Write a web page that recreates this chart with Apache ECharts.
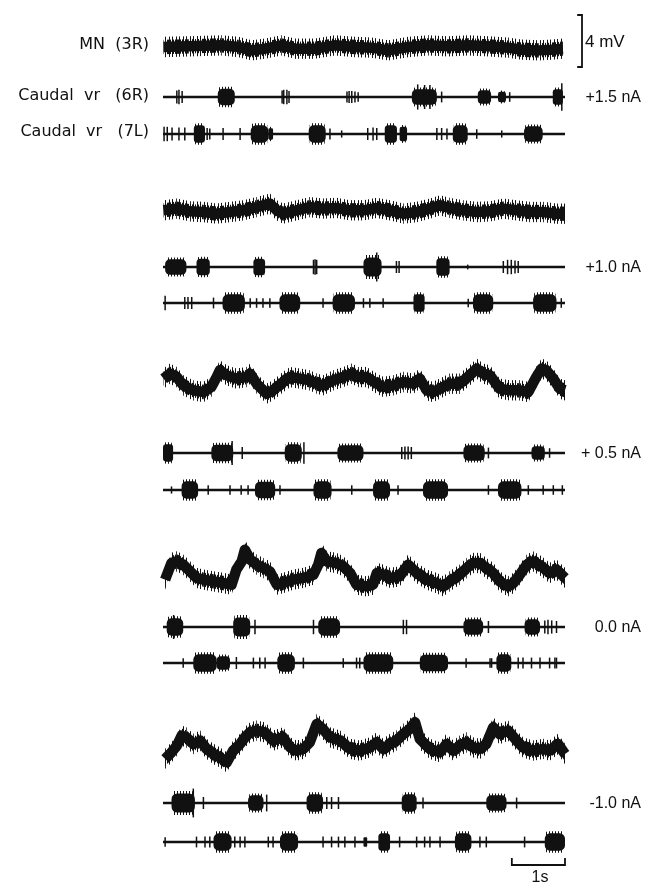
<!DOCTYPE html>
<html>
<head>
<meta charset="utf-8">
<script src="https://cdn.jsdelivr.net/npm/echarts@6/dist/echarts.min.js"></script>
<style>
  html, body { margin: 0; padding: 0; background: #fff; }
  #chart { width: 645px; height: 884px; }
</style>
</head>
<body>
<div id="chart"></div>
<script>
// Sweep length (s) and injected current for each sweep
const DURATION = 7.56;
const currentLabels = ['+1.5 nA', '+1.0 nA', '+ 0.5 nA', '0.0 nA', '-1.0 nA'];
const traceLabels = ['MN  (3R)', 'Caudal  vr   (6R)', 'Caudal  vr   (7L)'];

// Motoneuron membrane potential: [time s, mV about the sweep mean]
const mnP15 = [[0.01,0],[0.48,0.05],[1.10,0.13],[1.42,0],[1.67,-0.26],[1.92,-0.13],[2.23,0.13],[2.48,-0.13],[2.86,-0.13],[3.23,0.13],[3.61,0],[3.92,-0.05],[4.24,-0.26],[4.61,0],[4.99,0.13],[5.36,0.05],[5.74,0.13],[6.12,0.05],[6.49,-0.05],[6.74,-0.21],[7.06,-0.26],[7.31,-0.21],[7.52,-0.13]];
const mnP10 = [[0.01,0.13],[0.26,0.26],[0.51,0.05],[0.76,0],[1.01,-0.13],[1.26,0],[1.51,0.13],[1.76,0.38],[2.01,0.64],[2.14,0.13],[2.26,-0.13],[2.51,0.13],[2.76,0.38],[3.01,0.26],[3.26,0.31],[3.52,0.13],[3.77,0.13],[4.02,0.31],[4.27,0.13],[4.52,-0.13],[4.77,0],[5.02,0.26],[5.21,0.51],[5.39,0.31],[5.65,0.13],[5.90,0],[6.15,0.05],[6.40,0.26],[6.65,0.13],[6.90,0],[7.15,0],[7.40,-0.13],[7.56,-0.13]];
const mnP05 = [[0.01,0.26],[0.13,0.64],[0.26,0.38],[0.38,-0.26],[0.57,-0.64],[0.76,-0.77],[0.91,-0.38],[1.01,0.38],[1.07,0.90],[1.20,0.51],[1.38,0.26],[1.57,0.38],[1.64,0.64],[1.76,-0.13],[1.95,-0.90],[2.07,-0.64],[2.26,0],[2.39,0.38],[2.58,0.26],[2.76,0.13],[2.89,-0.13],[3.01,-0.26],[3.20,0.13],[3.39,0.38],[3.55,0.64],[3.67,0.38],[3.83,0.38],[4.02,-0.13],[4.14,-0.38],[4.33,-0.26],[4.52,0],[4.71,-0.13],[4.83,0.26],[4.96,-0.64],[5.08,-0.77],[5.27,-0.38],[5.39,-0.13],[5.58,-0.13],[5.77,0.51],[5.90,1.03],[6.02,0.64],[6.15,0.51],[6.33,-0.51],[6.52,-0.64],[6.71,-0.64],[6.87,-0.77],[7.02,0.38],[7.12,1.03],[7.21,0.90],[7.34,0.26],[7.46,-0.51],[7.56,-0.64]];
const mnP00 = [[0.04,-0.51],[0.16,0.77],[0.26,0.90],[0.38,0.64],[0.51,0.13],[0.63,-0.38],[0.76,-0.51],[0.95,-0.64],[1.13,-0.77],[1.29,-0.90],[1.38,0.26],[1.48,0.90],[1.54,1.79],[1.64,1.03],[1.76,0.64],[1.89,0.38],[2.01,0.13],[2.14,-0.90],[2.26,-0.77],[2.45,-0.51],[2.64,-0.38],[2.83,-0.13],[2.92,0.64],[2.98,1.54],[3.08,0.90],[3.26,0.77],[3.39,0.51],[3.52,0],[3.64,-0.90],[3.83,-1.03],[3.95,-0.90],[4.02,0],[4.14,-0.13],[4.27,-0.38],[4.45,-0.26],[4.61,0.64],[4.77,0],[4.96,-0.51],[5.14,-0.77],[5.27,-1.03],[5.39,-0.64],[5.58,-0.13],[5.71,0.38],[5.83,0.77],[5.96,0.77],[6.08,0.38],[6.21,0],[6.33,-0.64],[6.49,-1.03],[6.59,-0.77],[6.71,-0.13],[6.84,0.64],[6.96,0.90],[7.12,0.51],[7.27,0],[7.40,0.26],[7.56,-0.38]];
const mnM10 = [[0.04,-1.15],[0.16,-0.64],[0.26,-0.13],[0.35,0.64],[0.44,0.51],[0.57,0],[0.70,0.26],[0.82,-0.38],[0.95,-0.77],[1.07,-1.03],[1.20,-1.41],[1.32,-0.51],[1.45,0],[1.54,0.51],[1.64,0.90],[1.76,1.03],[1.92,0.90],[2.07,0.26],[2.26,0.51],[2.39,-0.26],[2.51,-0.51],[2.64,-0.38],[2.76,0.13],[2.89,1.54],[3.01,1.15],[3.14,0.51],[3.33,0.26],[3.52,-0.38],[3.70,-0.51],[3.89,-0.26],[4.02,0.13],[4.14,-0.38],[4.27,0],[4.39,0.26],[4.52,0.77],[4.64,1.15],[4.74,1.67],[4.83,0.38],[5.02,-0.38],[5.21,-0.64],[5.33,0],[5.46,-0.51],[5.58,-0.13],[5.71,0.13],[5.83,-0.26],[5.96,-0.38],[6.08,0],[6.21,1.28],[6.33,0.77],[6.49,1.03],[6.65,0.26],[6.77,-0.26],[6.96,-0.51],[7.15,-0.38],[7.27,-0.51],[7.43,0],[7.56,-0.77]];

// Ventral root bursts: [start s, end s, relative amplitude]
// Single units: [time s, relative amplitude]
const vr6RBurstsP15 = [[1.03,1.35,0.85],[4.68,5.15,0.8],[5.92,6.17,0.7],[6.30,6.45,0.55],[7.33,7.52,0.8]];
const vr6RSpikesP15 = [[0.26,0.55],[0.30,0.6],[0.36,0.5],[2.24,0.55],[2.27,0.6],[2.33,0.6],[2.37,0.5],[3.46,0.45],[3.50,0.5],[3.55,0.5],[3.61,0.45],[3.67,0.4],[4.79,1.05],[4.92,1.0],[5.02,1.0],[5.24,0.45],[6.52,0.4],[7.50,1.15]];
const vr7LBurstsP15 = [[0.58,0.79,0.9],[1.65,1.98,0.9],[1.98,2.07,0.6],[2.74,3.06,0.9],[4.17,4.40,0.9],[4.45,4.59,0.75],[5.45,5.73,0.9],[6.79,7.14,0.8]];
const vr7LSpikesP15 = [[0.02,0.6],[0.08,0.6],[0.17,0.55],[0.30,0.55],[0.41,0.55],[0.83,0.5],[0.88,0.45],[1.13,0.5],[1.45,0.5],[3.14,0.45],[3.36,0.3],[3.85,0.5],[3.95,0.55],[4.02,0.5],[5.15,0.5],[5.24,0.5],[5.34,0.45],[5.90,0.4],[6.37,0.3]];

const vr6RBurstsP10 = [[0.04,0.44,0.8],[0.63,0.88,0.85],[1.70,1.92,0.85],[3.77,4.11,1.0],[5.14,5.39,0.9]];
const vr6RSpikesP10 = [[2.83,0.6],[2.86,0.65],[2.89,0.6],[4.02,1.2],[4.39,0.5],[4.44,0.5],[5.73,0.2],[6.40,0.5],[6.48,0.6],[6.55,0.6],[6.62,0.55],[6.68,0.5]];
const vr7LBurstsP10 = [[1.12,1.54,0.9],[2.19,2.58,0.9],[3.19,3.61,0.9],[4.71,4.92,0.9],[5.83,6.21,0.9],[6.96,7.40,0.9]];
const vr7LSpikesP10 = [[0.04,0.6],[0.41,0.5],[0.47,0.5],[0.54,0.5],[0.95,0.45],[1.64,0.4],[1.76,0.4],[1.88,0.4],[2.01,0.4],[3.01,0.4],[3.77,0.4],[3.89,0.4],[4.14,0.4],[5.74,0.35],[7.49,0.4]];

const vr6RBurstsP05 = [[0,0.19,0.9],[0.91,1.32,0.85],[2.29,2.61,0.9],[3.28,3.77,0.8],[5.65,6.05,0.8],[6.93,7.18,0.7]];
const vr6RSpikesP05 = [[1.30,1.0],[1.49,0.5],[2.65,0.9],[4.49,0.5],[4.55,0.55],[4.61,0.55],[4.67,0.5],[6.12,0.45],[7.27,0.4]];
const vr7LBurstsP05 = [[0.35,0.66,0.9],[1.73,2.11,0.85],[2.83,3.17,0.9],[3.95,4.27,0.9],[4.89,5.36,0.9],[6.30,6.74,0.9]];
const vr7LSpikesP05 = [[0.16,0.3],[0.85,0.4],[1.26,0.4],[1.47,0.4],[1.60,0.4],[2.20,0.4],[3.55,0.4],[4.42,0.4],[6.12,0.4],[6.87,0.4],[7.15,0.4],[7.34,0.4],[7.51,0.4]];

const vr6RBurstsP00 = [[0.07,0.38,0.9],[1.32,1.64,1.0],[2.92,3.33,0.9],[5.65,6.02,0.8],[6.80,7.09,0.8]];
const vr6RSpikesP00 = [[0.20,1.0],[1.73,0.6],[2.83,0.6],[4.52,0.6],[4.58,0.6],[6.12,0.5],[7.18,0.55],[7.24,0.6],[7.31,0.55],[7.40,0.5]];
const vr7LBurstsP00 = [[0.57,1.01,0.9],[1.01,1.26,0.7],[2.15,2.48,0.9],[3.77,4.33,0.9],[4.83,5.36,0.85],[6.27,6.55,0.9]];
const vr7LSpikesP00 = [[0.38,0.4],[1.38,0.5],[1.70,0.45],[1.82,0.45],[1.92,0.45],[2.64,0.45],[3.39,0.4],[3.64,0.45],[3.70,0.45],[5.70,0.4],[6.15,0.4],[6.18,0.4],[6.68,0.45],[6.77,0.45],[6.93,0.45],[7.09,0.45],[7.27,0.45],[7.37,0.45],[7.40,0.45]];

const vr6RBurstsM10 = [[0.16,0.60,1.0],[1.60,1.89,0.8],[2.70,3.01,0.9],[4.49,4.77,0.9],[6.08,6.46,0.8]];
const vr6RSpikesM10 = [[0.57,1.2],[0.76,0.5],[1.95,0.7],[3.08,0.5],[3.17,0.5],[3.30,0.5],[4.89,0.45],[6.65,0.45]];
const vr7LBurstsM10 = [[0.95,1.29,0.9],[2.20,2.54,0.9],[3.77,3.84,0.5],[4.05,4.27,0.9],[5.49,5.80,0.9],[7.18,7.56,0.9]];
const vr7LSpikesM10 = [[0.04,0.4],[0.63,0.45],[0.79,0.45],[0.88,0.45],[1.35,0.45],[1.45,0.45],[1.54,0.45],[1.98,0.45],[2.07,0.45],[3.01,0.45],[3.17,0.45],[3.30,0.45],[3.42,0.45],[3.61,0.45],[4.45,0.45],[4.77,0.45],[4.92,0.45],[5.02,0.45],[5.21,0.45],[5.96,0.45],[6.08,0.45],[6.80,0.45]];

// Calibration: time bar [start s, length s], voltage bar [mV]
const timeBar = [6.56, 1];
const voltBar = [0, 4];

const sweeps = [
  { mn: mnP15, b6: vr6RBurstsP15, s6: vr6RSpikesP15, b7: vr7LBurstsP15, s7: vr7LSpikesP15 },
  { mn: mnP10, b6: vr6RBurstsP10, s6: vr6RSpikesP10, b7: vr7LBurstsP10, s7: vr7LSpikesP10 },
  { mn: mnP05, b6: vr6RBurstsP05, s6: vr6RSpikesP05, b7: vr7LBurstsP05, s7: vr7LSpikesP05 },
  { mn: mnP00, b6: vr6RBurstsP00, s6: vr6RSpikesP00, b7: vr7LBurstsP00, s7: vr7LSpikesP00 },
  { mn: mnM10, b6: vr6RBurstsM10, s6: vr6RSpikesM10, b7: vr7LBurstsM10, s7: vr7LSpikesM10 }
];

// Page layout (pixels): vertical centre of each trace row
const rowY = [
  { mn: 47, r6: 97, r7: 134 },
  { mn: 212, r6: 267, r7: 303 },
  { mn: 382, r6: 453, r7: 490 },
  { mn: 573, r6: 627, r7: 663 },
  { mn: 744, r6: 803, r7: 842 }
];
const TRACE_LEFT = 163, TRACE_WIDTH = 402;
const MN_HALF = 39;      // 3 mV each side → 13 px/mV
const VR_HALF = 12;
const NOISE_INNER = 0.55, NOISE_OUTER = 0.78;   // half-width of the recording noise, mV
const INK = '#111';
const LABEL_FONT = '"DejaVu Sans", Verdana, sans-serif';
const FONT = '"Liberation Sans", Arial, sans-serif';

// Vertical hatching used for the noisy rim of the recordings
function makeHatch(w, marks) {
  const c = document.createElement('canvas');
  c.width = w; c.height = 4;
  const g = c.getContext('2d');
  g.fillStyle = INK;
  marks.forEach(function (x) { g.fillRect(x, 0, 1, 4); });
  return c;
}
const hatchDense = makeHatch(5, [0, 2, 3]);
const hatchSparse = makeHatch(7, [1, 4]);
const hatchBurst = makeHatch(3, [0]);

const grids = [], xAxes = [], yAxes = [], series = [];

function addGrid(top, height, yMin, yMax, left, width, xMin, xMax) {
  grids.push({ left: left, top: top, width: width, height: height, containLabel: false });
  const i = grids.length - 1;
  xAxes.push({ gridIndex: i, type: 'value', min: xMin, max: xMax, show: false });
  yAxes.push({ gridIndex: i, type: 'value', min: yMin, max: yMax, show: false });
  return i;
}

function renderBurst(params, api) {
  const a = api.value(2);
  const t0 = api.value(0), t1 = api.value(1);
  const p0 = api.coord([t0, a]);
  const p1 = api.coord([t1, -a]);
  const c0 = api.coord([t0, a * 0.8]);
  const c1 = api.coord([t1, -a * 0.8]);
  const w = p1[0] - p0[0];
  const hc = c1[1] - c0[1];
  return {
    type: 'group',
    children: [
      {
        type: 'rect',
        shape: { x: p0[0] + 1, y: p0[1], width: Math.max(w - 2, 1), height: p1[1] - p0[1], r: 2 },
        style: { fill: { image: hatchBurst, repeat: 'repeat' } }
      },
      {
        type: 'rect',
        shape: { x: c0[0], y: c0[1], width: w, height: hc, r: Math.min(w, hc) * 0.3 },
        style: { fill: INK }
      }
    ]
  };
}

function renderSpike(params, api) {
  const a = api.value(1);
  const p0 = api.coord([api.value(0), a]);
  const p1 = api.coord([api.value(0), -a]);
  return {
    type: 'line',
    shape: { x1: p0[0], y1: p0[1], x2: p1[0], y2: p1[1] },
    style: { stroke: INK, lineWidth: 1.5 }
  };
}

function addRoot(gi, bursts, spikes) {
  series.push({
    type: 'line', xAxisIndex: gi, yAxisIndex: gi, silent: true,
    data: [[0, 0], [DURATION, 0]], symbol: 'none',
    lineStyle: { color: INK, width: 2.6 }
  });
  series.push({
    type: 'custom', xAxisIndex: gi, yAxisIndex: gi, silent: true, clip: false,
    data: bursts, renderItem: renderBurst
  });
  series.push({
    type: 'custom', xAxisIndex: gi, yAxisIndex: gi, silent: true, clip: false,
    data: spikes, renderItem: renderSpike
  });
}

// Band of vertical hairs following the membrane trace, one quad per segment
function noiseBand(data, half, hatch) {
  return function (params, api) {
    const i = params.dataIndex;
    if (i >= data.length - 1) return null;
    const pa = api.coord(data[i]);
    const pb = api.coord(data[i + 1]);
    const d = api.size([0, half])[1];
    return {
      type: 'polygon',
      shape: { points: [[pa[0], pa[1] - d], [pb[0], pb[1] - d], [pb[0], pb[1] + d], [pa[0], pa[1] + d]] },
      style: { fill: { image: hatch, repeat: 'repeat' } }
    };
  };
}

function addMembrane(gi, data) {
  [[NOISE_OUTER, hatchSparse], [NOISE_INNER, hatchDense]].forEach(function (h) {
    series.push({
      type: 'custom', xAxisIndex: gi, yAxisIndex: gi, silent: true, clip: false,
      data: data, renderItem: noiseBand(data, h[0], h[1])
    });
  });
  series.push({
    type: 'line', xAxisIndex: gi, yAxisIndex: gi, silent: true,
    data: data, symbol: 'none',
    lineStyle: { color: INK, width: 10.5, join: 'round', cap: 'butt' }
  });
}

sweeps.forEach(function (sw, k) {
  const r = rowY[k];
  const gm = addGrid(r.mn - MN_HALF, MN_HALF * 2, -3, 3, TRACE_LEFT, TRACE_WIDTH, 0, DURATION);
  addMembrane(gm, sw.mn);
  const g6 = addGrid(r.r6 - VR_HALF, VR_HALF * 2, -1, 1, TRACE_LEFT, TRACE_WIDTH, 0, DURATION);
  addRoot(g6, sw.b6, sw.s6);
  const g7 = addGrid(r.r7 - VR_HALF, VR_HALF * 2, -1, 1, TRACE_LEFT, TRACE_WIDTH, 0, DURATION);
  addRoot(g7, sw.b7, sw.s7);
});

// 1 s time calibration under the last sweep
const gt = addGrid(858, 7, 0, 1, TRACE_LEFT, TRACE_WIDTH, 0, DURATION);
series.push({
  type: 'custom', xAxisIndex: gt, yAxisIndex: gt, silent: true, clip: false,
  data: [timeBar],
  renderItem: function (params, api) {
    const a = api.coord([api.value(0), 0]);
    const b = api.coord([api.value(0) + api.value(1), 0]);
    const top = api.coord([0, 1])[1];
    return {
      type: 'polyline',
      shape: { points: [[a[0], top], [a[0], a[1]], [b[0], b[1]], [b[0], top]] },
      style: { stroke: INK, lineWidth: 1.8, fill: null }
    };
  }
});

// 4 mV voltage calibration, same scale as the MN traces
const gv = addGrid(15, 52, 0, 4, 574, 8, 0, 1);
series.push({
  type: 'custom', xAxisIndex: gv, yAxisIndex: gv, silent: true, clip: false,
  data: [voltBar],
  renderItem: function (params, api) {
    const lo = api.coord([1, api.value(0)]);
    const hi = api.coord([1, api.value(1)]);
    const left = api.coord([0.4, 0])[0];
    return {
      type: 'polyline',
      shape: { points: [[left, hi[1]], [hi[0], hi[1]], [lo[0], lo[1]], [left, lo[1]]] },
      style: { stroke: INK, lineWidth: 1.8, fill: null }
    };
  }
});

const graphic = [];
const leftLabelY = [rowY[0].mn - 2, rowY[0].r6 - 1, rowY[0].r7 - 2];
traceLabels.forEach(function (t, i) {
  graphic.push({ type: 'text', x: 149, y: leftLabelY[i],
    style: { text: t, textAlign: 'right', textVerticalAlign: 'middle', fill: INK, fontFamily: LABEL_FONT, fontSize: 16 } });
});
currentLabels.forEach(function (t, i) {
  graphic.push({ type: 'text', x: 641, y: rowY[i].r6 + 1,
    style: { text: t, textAlign: 'right', textVerticalAlign: 'middle', fill: INK, fontFamily: FONT, fontSize: 16 } });
});
graphic.push({ type: 'text', x: 585, y: 42,
  style: { text: '4 mV', textAlign: 'left', textVerticalAlign: 'middle', fill: INK, fontFamily: FONT, fontSize: 17 } });
graphic.push({ type: 'text', x: 540, y: 878,
  style: { text: '1s', textAlign: 'center', textVerticalAlign: 'middle', fill: INK, fontFamily: FONT, fontSize: 16 } });

const chart = echarts.init(document.getElementById('chart'), null, { renderer: 'canvas' });
chart.setOption({
  backgroundColor: '#fff',
  animation: false,
  grid: grids,
  xAxis: xAxes,
  yAxis: yAxes,
  series: series,
  graphic: graphic
});
</script>
</body>
</html>
